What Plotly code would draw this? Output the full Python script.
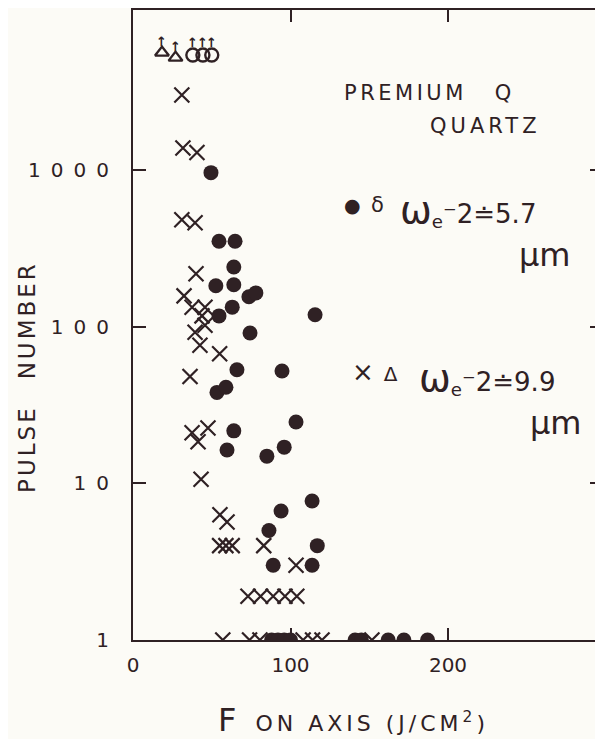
import math
import plotly.graph_objects as go

# ---------------- data ----------------
# filled circles: w_e-2 = 5.7 um
dot_x = [49.5, 54.6, 64.8, 64, 52.6, 64, 73.6, 78, 54.6, 63, 115.6, 74.3, 66, 94.6,
         53.3, 59, 103.5, 64, 59.7, 85, 96, 113.7, 94, 86.3, 117, 89, 113.7,
         88, 92, 96, 100, 141, 145, 162, 172, 187]
dot_y = [960, 350, 350, 240, 182, 185, 155, 164, 117, 133, 119, 91, 53, 52,
         38, 41, 24.6, 21.6, 16.3, 14.9, 17, 7.7, 6.65, 5.0, 4.0, 3.0, 3.0,
         1, 1, 1, 1, 1, 1, 1, 1, 1]

# crosses: w_e-2 = 9.9 um
cross_x = [31, 31.7, 40.6, 31, 39.4, 40, 32.4, 37.5, 45.7, 43.8, 45.7, 39.4, 42.5, 55,
           36.2, 37.5, 47.6, 41.3, 43.2, 55.2, 59.7, 55, 59, 63, 83, 103.5,
           73, 81, 89, 96.5, 104,
           57, 74, 80.6, 108, 114, 120, 151.7]
cross_y = [3000, 1380, 1290, 480, 460, 217, 157, 133, 133, 117, 102, 92, 76, 67,
           48, 21, 22.5, 18.4, 10.6, 6.3, 5.66, 4, 4, 4, 4, 3,
           1.9, 1.9, 1.9, 1.9, 1.9,
           1, 1, 1, 1, 1, 1, 1]

# runaway points (no damage, arrow up)
tri_x = [18.4, 27]
tri_y = [5600, 5200]
ocirc_x = [38, 44.4, 50]
ocirc_y = [5400, 5400, 5400]

x_ticks = [0, 100, 200]
x_ticklabels = ["0", "100", "200"]
y_ticks = [1, 10, 100, 1000]
y_ticklabels = ["1", "1\u20020", "1\u20020\u20020", "1\u20020\u20020\u20020"]

INK = "#2f2124"
BG = "#fcfbf6"
FONT = "DejaVu Sans"

fig = go.Figure()
fig.add_trace(go.Scatter(x=cross_x, y=cross_y, mode="markers",
                         marker=dict(symbol="x-thin-open", size=15, color=INK,
                                     line=dict(color=INK, width=2.2)),
                         hoverinfo="skip"))
fig.add_trace(go.Scatter(x=dot_x, y=dot_y, mode="markers",
                         marker=dict(symbol="circle", size=15, color=INK,
                                     line=dict(width=0)),
                         hoverinfo="skip"))
fig.add_trace(go.Scatter(x=tri_x, y=tri_y, mode="markers",
                         marker=dict(symbol="triangle-up-open", size=12, color=INK,
                                     line=dict(color=INK, width=2.4)),
                         hoverinfo="skip"))
fig.add_trace(go.Scatter(x=ocirc_x, y=ocirc_y, mode="markers",
                         marker=dict(symbol="circle-open", size=13, color=INK,
                                     line=dict(color=INK, width=2.4)),
                         hoverinfo="skip"))
# invisible trace to activate the right-hand tick axis
fig.add_trace(go.Scatter(x=dot_x, y=dot_y, mode="markers", yaxis="y2",
                         marker=dict(opacity=0), hoverinfo="skip"))

# up arrows on runaway points (annotation y on a log axis is given as log10)
for xs, ys, shift in ((tri_x, tri_y, 11), (ocirc_x, ocirc_y, 13)):
    for xv, yv in zip(xs, ys):
        fig.add_annotation(x=xv, y=math.log10(yv), xref="x", yref="y",
                           text="<b>↑</b>", showarrow=False, yshift=shift,
                           xanchor="center", yanchor="middle",
                           font=dict(family=FONT, size=13, color=INK))

def txt(s, x, y, size=20, xanchor="left", angle=0, ls=0):
    if ls:
        s = '<span style="letter-spacing:%spx">%s</span>' % (ls, s)
    fig.add_annotation(text=s, x=x, y=y, xref="paper", yref="paper",
                       xanchor=xanchor, yanchor="middle", showarrow=False,
                       textangle=angle,
                       font=dict(family=FONT, size=size, color=INK))

txt("PREMIUM\u2002\u2002Q", 0.4447, 0.868, 21, ls=3.5)
txt("QUARTZ", 0.6277, 0.816, 21, ls=4)
txt('<span style="font-size:19px">●</span>\u2002δ', 0.4447, 0.690, 21)
txt('<span style="font-size:38px">ω</span><sub>e</sub>⁻2≐5.7', 0.5638, 0.683, 26)
txt("μm", 0.817, 0.611, 32)
txt('<span style="font-size:26px">×</span>\u2002Δ', 0.462, 0.4254, 20)
txt('<span style="font-size:38px">ω</span><sub>e</sub>⁻2≐9.9', 0.604, 0.416, 26)
txt("μm", 0.840, 0.344, 32)
txt('<span style="font-size:32px">F</span>\u2002ON AXIS (J/CM<sup>2</sup>)',
    0.47, -0.127, 22, xanchor="center", ls=4)
txt("PULSE\u2003NUMBER", -0.2255, 0.4175, 23, xanchor="center", angle=-90, ls=3)

axis_common = dict(showgrid=False, zeroline=False, color=INK, linecolor=INK,
                   tickcolor=INK, tickfont=dict(family=FONT, size=20, color=INK))

# the page body has an 8px margin: shift the figure so the plot lands in place
fig.update_layout(
    width=595, height=731,
    margin=dict(l=125, r=0, t=2, b=99),
    paper_bgcolor=BG, plot_bgcolor=BG,
    showlegend=False,
    xaxis=dict(range=[0, 298.4], showline=True, linewidth=2, mirror="ticks",
               ticks="inside", ticklen=12, tickwidth=2,
               tickvals=x_ticks, ticktext=x_ticklabels, ticklabelstandoff=6,
               **axis_common),
    yaxis=dict(type="log", range=[0, 4.02], showline=True, linewidth=2,
               ticks="inside", ticklen=13, tickwidth=2,
               tickvals=y_ticks, ticktext=y_ticklabels, ticklabelstandoff=18,
               **axis_common),
    yaxis2=dict(type="log", range=[0, 4.02], overlaying="y", side="right",
                showline=False, ticks="inside", ticklen=13, tickwidth=2,
                tickvals=[10, 100, 1000], showticklabels=False,
                showgrid=False, zeroline=False, tickcolor=INK),
)

fig.write_html("out.html")
